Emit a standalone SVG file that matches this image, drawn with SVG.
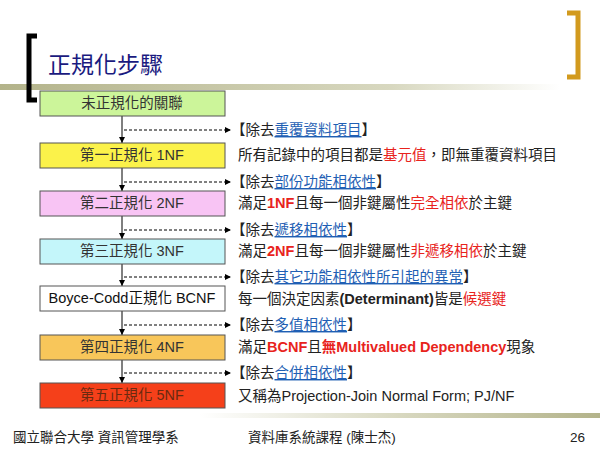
<svg xmlns="http://www.w3.org/2000/svg" width="600" height="450" viewBox="0 0 600 450">
<defs>
<linearGradient id="g1" x1="0" x2="1"><stop offset="0" stop-color="#b3b38a"/><stop offset="0.7" stop-color="#d8d8c0"/><stop offset="1" stop-color="#fff"/></linearGradient>
<linearGradient id="g2" x1="0" x2="1"><stop offset="0" stop-color="#fff"/><stop offset="0.5" stop-color="#d8d8c0"/><stop offset="1" stop-color="#b3b38a"/></linearGradient>
<marker id="ah" markerWidth="6" markerHeight="6" refX="5" refY="3" orient="auto"><path d="M0,0 L6,3 L0,6 z" fill="#000"/></marker>
</defs>
<style>
.bx{stroke:#555;stroke-width:1}
.t{font-family:"Liberation Sans","Noto Sans CJK TC",sans-serif;font-size:14.5px;fill:#222}
.c{text-anchor:middle;fill:#333}
.r{fill:#e8231c;font-weight:bold}
.u{fill:#1f5fb4;text-decoration:underline}
.d{stroke:#000;stroke-width:1;stroke-dasharray:3,2;fill:none}
</style>
<rect x="0" y="84" width="560" height="6" fill="url(#g1)"/>
<path d="M37,36 H29 V100 H37" fill="none" stroke="#000" stroke-width="5"/>
<path d="M567,13 H578 V77 H567" fill="none" stroke="#d29a1e" stroke-width="5"/>
<text x="48" y="73" style="font-family:'Noto Sans CJK TC',sans-serif;font-size:23px;fill:#1a1a80">正規化步驟</text>
<g id="connectors">
<line x1="122" y1="116" x2="122" y2="383" stroke="#000"/>
<path class="d" d="M124,130 H230" marker-end="url(#ah)"/>
<path class="d" d="M124,182 H230" marker-end="url(#ah)"/>
<path class="d" d="M124,230 H230" marker-end="url(#ah)"/>
<path class="d" d="M124,277 H230" marker-end="url(#ah)"/>
<path class="d" d="M124,325 H230" marker-end="url(#ah)"/>
<path class="d" d="M124,373 H230" marker-end="url(#ah)"/>
<path d="M119,137 L122,143 L125,137z M119,185 L122,191 L125,185z M119,233 L122,239 L125,233z M119,280 L122,286 L125,280z M119,329 L122,335 L125,329z M119,377 L122,383 L125,377z" fill="#000"/>
</g>
<g id="n0"><rect class="bx" x="40" y="91" width="185" height="25" fill="#ccf59a"/><text class="t c" x="132" y="108">未正規化的關聯</text></g>
<g id="n1"><rect class="bx" x="40" y="143" width="185" height="25" fill="#fbf24a"/><text class="t c" x="132" y="160">第一正規化 1NF</text></g>
<g id="n2"><rect class="bx" x="40" y="191" width="185" height="25" fill="#f8c4f4"/><text class="t c" x="132" y="208">第二正規化 2NF</text></g>
<g id="n3"><rect class="bx" x="40" y="239" width="185" height="25" fill="#c4f6fa"/><text class="t c" x="132" y="256">第三正規化 3NF</text></g>
<g id="n4"><rect class="bx" x="40" y="286" width="185" height="25" fill="#fff"/><text class="t c" x="132" y="303" style="fill:#111">Boyce-Codd正規化 BCNF</text></g>
<g id="n5"><rect class="bx" x="40" y="335" width="185" height="25" fill="#f8c65a"/><text class="t c" x="132" y="352">第四正規化 4NF</text></g>
<g id="n6"><rect class="bx" x="40" y="383" width="185" height="25" fill="#f5401a"/><text class="t c" x="132" y="400" style="fill:#6a2a10">第五正規化 5NF</text></g>
<g id="labels" class="t">
<text class="t" x="231" y="135">【除去<tspan class="u">重覆資料項目</tspan>】</text>
<text class="t" x="238" y="160">所有記錄中的項目都是<tspan class="r" style="font-weight:normal">基元值</tspan>，即無重覆資料項目</text>
<text class="t" x="231" y="187">【除去<tspan class="u">部份功能相依性</tspan>】</text>
<text class="t" x="238" y="208">滿足<tspan class="r">1NF</tspan>且每一個非鍵屬性<tspan class="r" style="font-weight:normal">完全相依</tspan>於主鍵</text>
<text class="t" x="231" y="235">【除去<tspan class="u">遞移相依性</tspan>】</text>
<text class="t" x="238" y="256">滿足<tspan class="r">2NF</tspan>且每一個非鍵屬性<tspan class="r" style="font-weight:normal">非遞移相依</tspan>於主鍵</text>
<text class="t" x="231" y="282">【除去<tspan class="u">其它功能相依性所引起的異常</tspan>】</text>
<text class="t" x="238" y="304">每一個決定因素<tspan font-weight="bold">(Determinant)</tspan>皆是<tspan class="r" style="font-weight:normal">候選鍵</tspan></text>
<text class="t" x="231" y="330">【除去<tspan class="u">多值相依性</tspan>】</text>
<text class="t" x="238" y="352">滿足<tspan class="r">BCNF</tspan>且<tspan class="r">無Multivalued Dependency</tspan>現象</text>
<text class="t" x="231" y="378">【除去<tspan class="u">合併相依性</tspan>】</text>
<text class="t" x="238" y="401">又稱為Projection-Join Normal Form; PJ/NF</text>
</g>
<rect x="200" y="413" width="400" height="5" fill="url(#g2)"/>
<text class="t" x="13" y="442" style="font-size:13.5px">國立聯合大學 資訊管理學系</text>
<text class="t" x="248" y="442" style="font-size:13.5px">資料庫系統課程 (陳士杰)</text>
<text class="t" x="585" y="442" text-anchor="end" style="font-size:13.5px">26</text>
</svg>
